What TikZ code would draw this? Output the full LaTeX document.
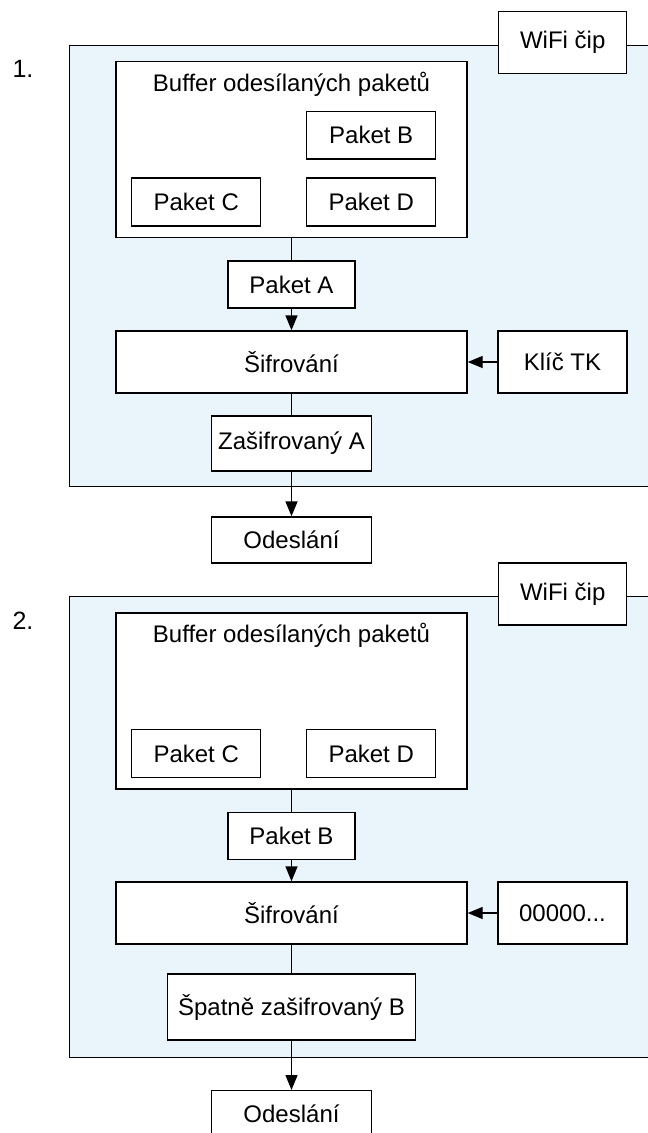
\documentclass[tikz,border=0pt]{standalone}
\usepackage{fontspec}
\setmainfont{Liberation Sans}
\usetikzlibrary{arrows.meta}
\definecolor{chipfill}{RGB}{234,244,251}
\begin{document}
\begin{tikzpicture}[x=1pt,y=-1pt,
  txt/.style={font=\fontsize{24}{28}\selectfont},
  box/.style={draw, line width=1.4pt, fill=white, inner sep=0pt, txt},
  chip/.style={draw, line width=1.4pt, fill=chipfill, inner sep=0pt, anchor=north west, minimum width=600pt},
  conn/.style={line width=1.4pt},
  arr/.style={line width=1.4pt, -{Triangle[length=15pt,width=12pt]}},
  numlbl/.style={font=\fontsize{25}{29}\selectfont}]
\useasboundingbox (0,0) rectangle (648,1133);
\clip (0,0) rectangle (648,1133);

% ---------- Diagram 1 ----------
\node[chip, minimum height=441.5pt] (chipA) at (68.5,44.5) {};
\node[box, minimum width=128pt, minimum height=62pt] (wifiA) at (562.75,42.75) {WiFi čip};
\node[numlbl] (numA) at (23,69) {1.};
\node[box, minimum width=351pt, minimum height=176pt] (bufA) at (291.5,149.7) {};
\node[txt] (btA) at (291.5,84) {Buffer odesílaných paketů};
\node[box, minimum width=129pt, minimum height=47.3pt] (pbA) at (371.2,135.3) {Paket B};
\node[box, minimum width=129pt, minimum height=48pt] (pcA) at (196.2,202) {Paket C};
\node[box, minimum width=129pt, minimum height=48pt] (pdA) at (371.2,202) {Paket D};
\node[box, minimum width=127.3pt, minimum height=47pt] (paA) at (291.5,284.5) {Paket A};
\node[box, minimum width=351pt, minimum height=62pt] (sifA) at (291.5,362) {Šifrování};
\node[box, minimum width=129pt, minimum height=62pt] (keyA) at (562.5,362) {Klíč TK};
\node[box, minimum width=160pt, minimum height=55pt] (zaA) at (291.5,443.5) {Zašifrovaný A};
\node[box, minimum width=160pt, minimum height=46pt] (odA) at (291.5,540) {Odeslání};

\draw[conn] (bufA.south) -- (paA.north);
\draw[arr] (paA.south) -- (sifA.north);
\draw[arr] (keyA.west) -- (sifA.east);
\draw[conn] (sifA.south) -- (zaA.north);
\draw[arr] (zaA.south) -- (odA.north);

% ---------- Diagram 2 ----------
\node[chip, minimum height=461pt] (chipB) at (68.5,596) {};
\node[box, minimum width=128pt, minimum height=62pt] (wifiB) at (562.75,594) {WiFi čip};
\node[numlbl] (numB) at (23,620.5) {2.};
\node[box, minimum width=351pt, minimum height=176pt] (bufB) at (291.5,701) {};
\node[txt] (btB) at (291.5,635.3) {Buffer odesílaných paketů};
\node[box, minimum width=129pt, minimum height=48pt] (pcB) at (196.2,753.5) {Paket C};
\node[box, minimum width=129pt, minimum height=48pt] (pdB) at (371.2,753.5) {Paket D};
\node[box, minimum width=127.3pt, minimum height=47pt] (pbB) at (291.5,835.8) {Paket B};
\node[box, minimum width=351pt, minimum height=62pt] (sifB) at (291.5,913) {Šifrování};
\node[box, minimum width=129pt, minimum height=62pt] (keyB) at (562.5,913) {00000...};
\node[box, minimum width=248pt, minimum height=66pt] (zaB) at (291.5,1007) {Špatně zašifrovaný B};
\node[box, minimum width=160pt, minimum height=46pt] (odB) at (291.5,1113.7) {Odeslání};

\draw[conn] (bufB.south) -- (pbB.north);
\draw[arr] (pbB.south) -- (sifB.north);
\draw[arr] (keyB.west) -- (sifB.east);
\draw[conn] (sifB.south) -- (zaB.north);
\draw[arr] (zaB.south) -- (odB.north);
\end{tikzpicture}
\end{document}
